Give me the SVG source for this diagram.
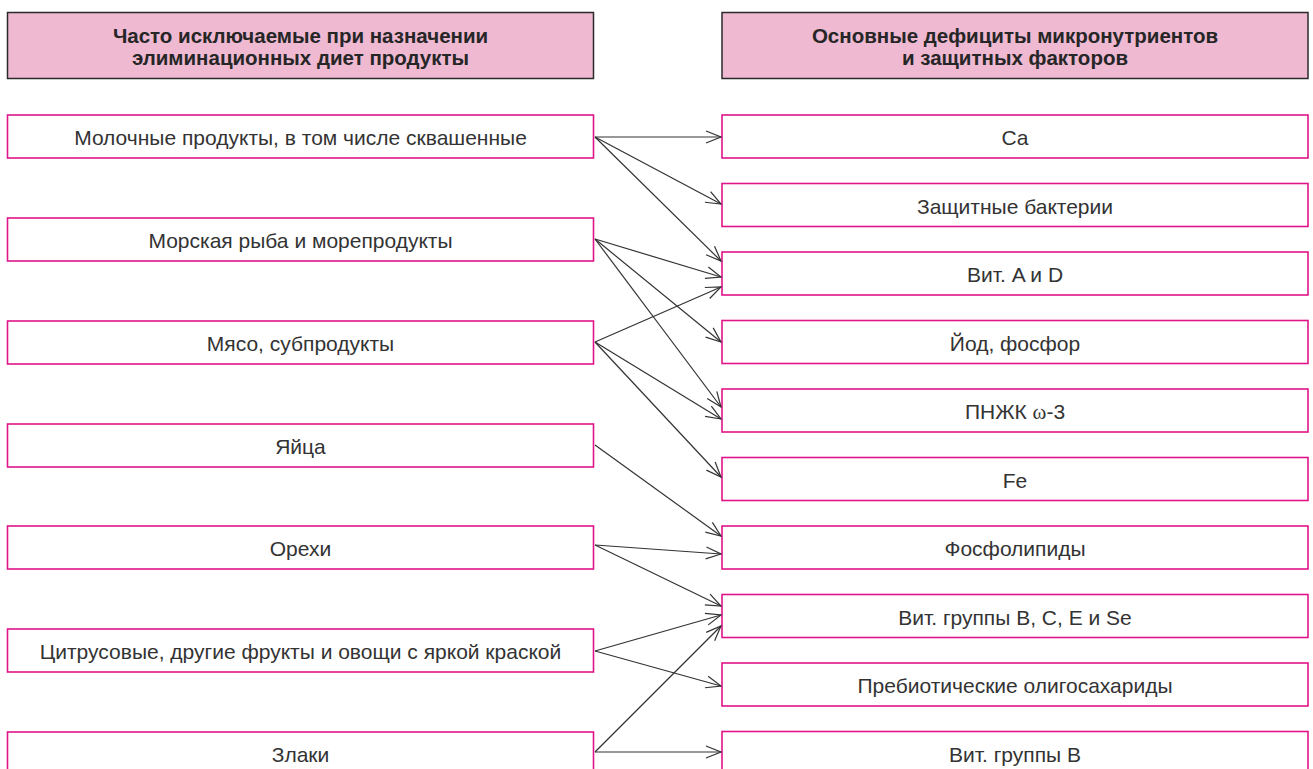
<svg xmlns="http://www.w3.org/2000/svg" width="1313" height="769" viewBox="0 0 1313 769">
<style>
.hdr{fill:#efb9d2;stroke:#2b2b2b;stroke-width:1.5}
.box{fill:#fff;stroke:#e0158a;stroke-width:1.6}
.ht{font-family:"Liberation Sans",Arial,sans-serif;font-size:20.5px;font-weight:bold;fill:#262626;text-anchor:middle}
.t{font-family:"Liberation Sans",Arial,sans-serif;font-size:21px;fill:#333;text-anchor:middle}
.c line{stroke:#333;stroke-width:1.2;fill:none;marker-end:url(#ah)}
</style>
<defs>
<marker id="ah" markerUnits="userSpaceOnUse" markerWidth="20" markerHeight="16" refX="16" refY="7" orient="auto" overflow="visible">
<path d="M1,1 L16,7 L1,13" fill="none" stroke="#333" stroke-width="1.2"/>
</marker>
</defs>
<rect width="1313" height="769" fill="#fff"/>
<g id="hdr-left"><rect class="hdr" x="7.5" y="12.5" width="586" height="66"/>
<text class="ht" x="300.5" y="43">Часто исключаемые при назначении</text>
<text class="ht" x="300.5" y="65">элиминационных диет продукты</text></g>
<g id="hdr-right"><rect class="hdr" x="722" y="12.5" width="586" height="66"/>
<text class="ht" x="1015" y="43">Основные дефициты микронутриентов</text>
<text class="ht" x="1015" y="65">и защитных факторов</text></g>
<g id="l1"><rect class="box" x="7.5" y="115" width="586" height="43"/><text class="t" x="300.5" y="145">Молочные продукты, в том числе сквашенные</text></g>
<g id="l2"><rect class="box" x="7.5" y="218" width="586" height="43"/><text class="t" x="300.5" y="248">Морская рыба и морепродукты</text></g>
<g id="l3"><rect class="box" x="7.5" y="321" width="586" height="43"/><text class="t" x="300.5" y="351">Мясо, субпродукты</text></g>
<g id="l4"><rect class="box" x="7.5" y="424" width="586" height="43"/><text class="t" x="300.5" y="454">Яйца</text></g>
<g id="l5"><rect class="box" x="7.5" y="526" width="586" height="43"/><text class="t" x="300.5" y="556">Орехи</text></g>
<g id="l6"><rect class="box" x="7.5" y="629" width="586" height="43"/><text class="t" x="300.5" y="659">Цитрусовые, другие фрукты и овощи с яркой краской</text></g>
<g id="l7"><rect class="box" x="7.5" y="732" width="586" height="43"/><text class="t" x="300.5" y="762">Злаки</text></g>
<g id="r1"><rect class="box" x="722" y="115" width="586" height="43"/><text class="t" x="1015" y="145">Ca</text></g>
<g id="r2"><rect class="box" x="722" y="183.5" width="586" height="43"/><text class="t" x="1015" y="213.5">Защитные бактерии</text></g>
<g id="r3"><rect class="box" x="722" y="252" width="586" height="43"/><text class="t" x="1015" y="282">Вит. A и D</text></g>
<g id="r4"><rect class="box" x="722" y="320.5" width="586" height="43"/><text class="t" x="1015" y="350.5">Йод, фосфор</text></g>
<g id="r5"><rect class="box" x="722" y="389" width="586" height="43"/><text class="t" x="1015" y="419">ПНЖК <tspan font-family="'Liberation Serif',serif">ω</tspan>-3</text></g>
<g id="r6"><rect class="box" x="722" y="457.5" width="586" height="43"/><text class="t" x="1015" y="487.5">Fe</text></g>
<g id="r7"><rect class="box" x="722" y="526" width="586" height="43"/><text class="t" x="1015" y="556">Фосфолипиды</text></g>
<g id="r8"><rect class="box" x="722" y="594.5" width="586" height="43"/><text class="t" x="1015" y="624.5">Вит. группы B, C, E и Se</text></g>
<g id="r9"><rect class="box" x="722" y="663" width="586" height="43"/><text class="t" x="1015" y="693">Пребиотические олигосахариды</text></g>
<g id="r10"><rect class="box" x="722" y="731.5" width="586" height="43"/><text class="t" x="1015" y="761.5">Вит. группы B</text></g>
<g id="connectors" class="c">
<line x1="595" y1="137" x2="721" y2="137"/>
<line x1="595" y1="137" x2="721" y2="204"/>
<line x1="595" y1="137" x2="721" y2="261"/>
<line x1="595" y1="239" x2="721" y2="277"/>
<line x1="595" y1="239" x2="721" y2="342"/>
<line x1="595" y1="239" x2="721" y2="407"/>
<line x1="595" y1="342" x2="721" y2="287"/>
<line x1="595" y1="342" x2="721" y2="419"/>
<line x1="595" y1="342" x2="721" y2="477"/>
<line x1="595" y1="445" x2="721" y2="536"/>
<line x1="595" y1="545" x2="721" y2="554"/>
<line x1="595" y1="545" x2="721" y2="606"/>
<line x1="595" y1="651" x2="721" y2="615"/>
<line x1="595" y1="651" x2="721" y2="686"/>
<line x1="595" y1="752" x2="721" y2="626"/>
<line x1="595" y1="752" x2="721" y2="752"/>
</g>
</svg>
